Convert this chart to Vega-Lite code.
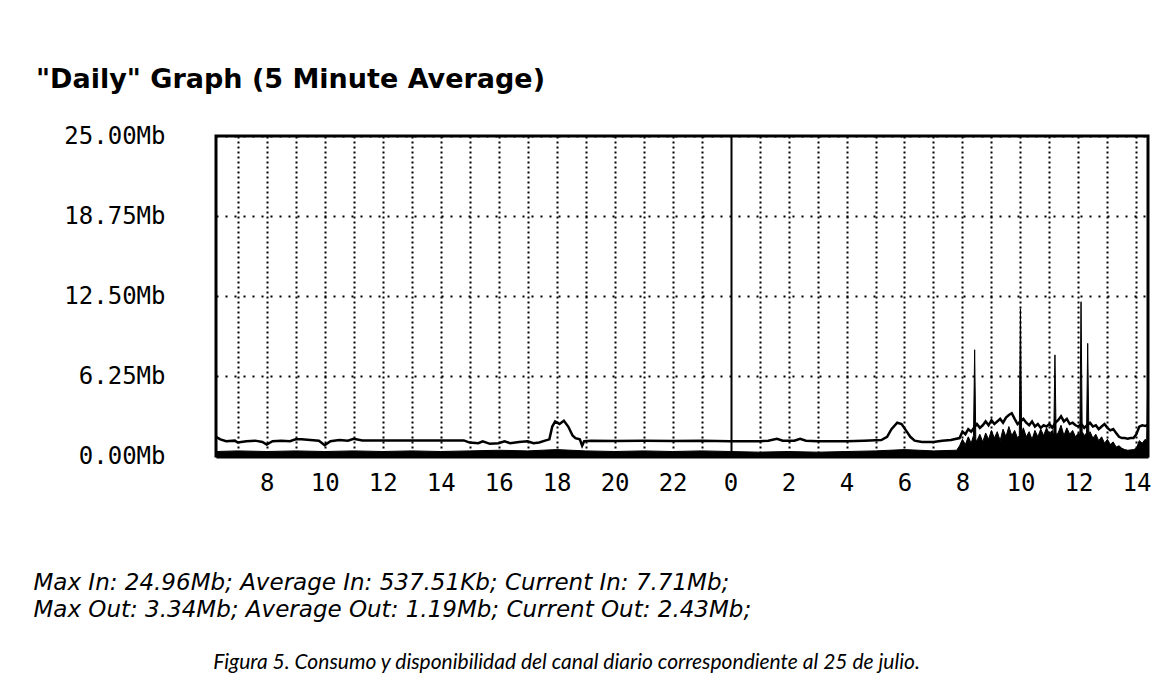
{
  "$schema": "https://vega.github.io/schema/vega-lite/v6.json",
  "width": 932,
  "height": 320,
  "autosize": {"type": "none"},
  "padding": {"left": 216, "top": 136, "right": 15, "bottom": 232},
  "background": "white",
  "title": {
    "text": "\"Daily\" Graph (5 Minute Average)",
    "anchor": "start",
    "frame": "group",
    "dx": -180,
    "font": "DejaVu Sans",
    "fontSize": 27,
    "fontWeight": "bold",
    "color": "black",
    "baseline": "alphabetic",
    "offset": 9
  },
  "datasets": {
    "inData": [
      {"h": 6.25, "v": 0.35}, {"h": 7, "v": 0.4}, {"h": 8, "v": 0.35}, {"h": 9, "v": 0.4},
      {"h": 10, "v": 0.35}, {"h": 11, "v": 0.4}, {"h": 12, "v": 0.35}, {"h": 13, "v": 0.4},
      {"h": 14, "v": 0.35}, {"h": 15, "v": 0.4}, {"h": 16, "v": 0.45}, {"h": 17, "v": 0.4},
      {"h": 18, "v": 0.5}, {"h": 19, "v": 0.4}, {"h": 20, "v": 0.35}, {"h": 21, "v": 0.4},
      {"h": 22, "v": 0.35}, {"h": 23, "v": 0.4}, {"h": 24, "v": 0.35}, {"h": 25, "v": 0.3},
      {"h": 26, "v": 0.35}, {"h": 27, "v": 0.3}, {"h": 28, "v": 0.35}, {"h": 29, "v": 0.4},
      {"h": 30, "v": 0.5}, {"h": 31, "v": 0.4}, {"h": 31.8, "v": 0.45},
      {"h": 31.9, "v": 0.8}, {"h": 32.0, "v": 1.3}, {"h": 32.1, "v": 0.9}, {"h": 32.2, "v": 1.5},
      {"h": 32.3, "v": 1.0}, {"h": 32.38, "v": 1.6}, {"h": 32.42, "v": 8.3}, {"h": 32.46, "v": 1.3},
      {"h": 32.5, "v": 1.2}, {"h": 32.6, "v": 1.7}, {"h": 32.7, "v": 1.1}, {"h": 32.8, "v": 1.8},
      {"h": 32.9, "v": 1.3}, {"h": 33.0, "v": 2.0}, {"h": 33.1, "v": 1.4}, {"h": 33.2, "v": 1.9},
      {"h": 33.3, "v": 1.2}, {"h": 33.4, "v": 2.1}, {"h": 33.5, "v": 1.5}, {"h": 33.6, "v": 2.3},
      {"h": 33.7, "v": 1.6}, {"h": 33.8, "v": 2.0}, {"h": 33.9, "v": 1.4}, {"h": 33.96, "v": 1.6},
      {"h": 34.0, "v": 11.5}, {"h": 34.04, "v": 1.8}, {"h": 34.1, "v": 2.2}, {"h": 34.2, "v": 1.5},
      {"h": 34.3, "v": 1.9}, {"h": 34.4, "v": 1.3}, {"h": 34.5, "v": 2.0}, {"h": 34.6, "v": 1.5},
      {"h": 34.7, "v": 2.1}, {"h": 34.8, "v": 1.6}, {"h": 34.9, "v": 2.2}, {"h": 35.0, "v": 1.7},
      {"h": 35.1, "v": 2.0}, {"h": 35.15, "v": 1.6}, {"h": 35.19, "v": 7.9}, {"h": 35.23, "v": 1.7},
      {"h": 35.3, "v": 1.8}, {"h": 35.4, "v": 2.4}, {"h": 35.5, "v": 1.6}, {"h": 35.6, "v": 2.2},
      {"h": 35.7, "v": 1.7}, {"h": 35.8, "v": 2.0}, {"h": 35.9, "v": 1.5}, {"h": 36.0, "v": 1.8},
      {"h": 36.05, "v": 1.7}, {"h": 36.09, "v": 12.05}, {"h": 36.13, "v": 1.9}, {"h": 36.2, "v": 1.6},
      {"h": 36.28, "v": 1.8}, {"h": 36.32, "v": 8.8}, {"h": 36.36, "v": 1.7}, {"h": 36.4, "v": 1.9},
      {"h": 36.5, "v": 1.4}, {"h": 36.6, "v": 1.7}, {"h": 36.7, "v": 1.2}, {"h": 36.8, "v": 1.5},
      {"h": 36.9, "v": 1.0}, {"h": 37.0, "v": 1.3}, {"h": 37.1, "v": 0.9}, {"h": 37.2, "v": 1.1},
      {"h": 37.3, "v": 0.7}, {"h": 37.4, "v": 0.8}, {"h": 37.5, "v": 0.6}, {"h": 37.6, "v": 0.5},
      {"h": 37.7, "v": 0.45}, {"h": 37.9, "v": 0.5}, {"h": 38.0, "v": 0.6}, {"h": 38.1, "v": 1.2},
      {"h": 38.2, "v": 1.0}, {"h": 38.3, "v": 1.3}, {"h": 38.36, "v": 1.2}, {"h": 38.4, "v": 7.71}
    ],
    "outData": [
      {"h": 6.25, "v": 1.5}, {"h": 6.4, "v": 1.3}, {"h": 6.6, "v": 1.15}, {"h": 6.9, "v": 1.2},
      {"h": 7.0, "v": 1.05}, {"h": 7.3, "v": 1.15}, {"h": 7.6, "v": 1.2}, {"h": 7.85, "v": 1.1},
      {"h": 8.0, "v": 0.9}, {"h": 8.2, "v": 1.15}, {"h": 8.5, "v": 1.2}, {"h": 8.8, "v": 1.15},
      {"h": 9.0, "v": 1.3}, {"h": 9.2, "v": 1.3}, {"h": 9.5, "v": 1.25}, {"h": 9.8, "v": 1.2},
      {"h": 10.0, "v": 0.85}, {"h": 10.2, "v": 1.15}, {"h": 10.5, "v": 1.25}, {"h": 10.8, "v": 1.2},
      {"h": 11.0, "v": 1.35}, {"h": 11.3, "v": 1.22}, {"h": 14.8, "v": 1.22}, {"h": 15.0, "v": 1.05},
      {"h": 15.3, "v": 1.0}, {"h": 15.45, "v": 1.15}, {"h": 15.7, "v": 0.95}, {"h": 16.0, "v": 1.0},
      {"h": 16.2, "v": 1.15}, {"h": 16.4, "v": 1.0}, {"h": 16.7, "v": 1.1}, {"h": 17.0, "v": 1.15},
      {"h": 17.2, "v": 1.0}, {"h": 17.4, "v": 1.05}, {"h": 17.6, "v": 1.2}, {"h": 17.75, "v": 1.3},
      {"h": 17.85, "v": 2.3}, {"h": 17.95, "v": 2.7}, {"h": 18.1, "v": 2.5}, {"h": 18.25, "v": 2.75},
      {"h": 18.4, "v": 2.3}, {"h": 18.55, "v": 1.6}, {"h": 18.65, "v": 1.4}, {"h": 18.8, "v": 1.3},
      {"h": 18.88, "v": 0.8}, {"h": 18.95, "v": 1.15}, {"h": 19.2, "v": 1.2}, {"h": 20, "v": 1.18},
      {"h": 21, "v": 1.2}, {"h": 22, "v": 1.18}, {"h": 23, "v": 1.2}, {"h": 24, "v": 1.15},
      {"h": 25.0, "v": 1.15}, {"h": 25.3, "v": 1.2}, {"h": 25.6, "v": 1.35}, {"h": 25.8, "v": 1.2},
      {"h": 26.2, "v": 1.2}, {"h": 26.4, "v": 1.35}, {"h": 26.6, "v": 1.2}, {"h": 27.0, "v": 1.15},
      {"h": 28.0, "v": 1.15}, {"h": 28.6, "v": 1.2}, {"h": 29.2, "v": 1.25}, {"h": 29.4, "v": 1.5},
      {"h": 29.55, "v": 2.1}, {"h": 29.75, "v": 2.6}, {"h": 29.9, "v": 2.5}, {"h": 30.05, "v": 2.0},
      {"h": 30.2, "v": 1.5}, {"h": 30.35, "v": 1.2}, {"h": 30.6, "v": 1.1}, {"h": 31.0, "v": 1.1},
      {"h": 31.3, "v": 1.2}, {"h": 31.6, "v": 1.25}, {"h": 31.9, "v": 1.4}, {"h": 32.0, "v": 1.9},
      {"h": 32.1, "v": 1.7}, {"h": 32.2, "v": 2.1}, {"h": 32.3, "v": 1.9}, {"h": 32.4, "v": 2.2},
      {"h": 32.5, "v": 2.5}, {"h": 32.6, "v": 2.2}, {"h": 32.7, "v": 2.4}, {"h": 32.8, "v": 2.7},
      {"h": 32.9, "v": 2.4}, {"h": 33.0, "v": 2.8}, {"h": 33.1, "v": 2.5}, {"h": 33.2, "v": 2.7},
      {"h": 33.3, "v": 2.9}, {"h": 33.4, "v": 2.6}, {"h": 33.5, "v": 3.0}, {"h": 33.6, "v": 3.2},
      {"h": 33.7, "v": 3.34}, {"h": 33.8, "v": 2.9}, {"h": 33.9, "v": 2.5}, {"h": 34.0, "v": 2.7},
      {"h": 34.1, "v": 2.9}, {"h": 34.2, "v": 2.6}, {"h": 34.3, "v": 2.4}, {"h": 34.4, "v": 2.7},
      {"h": 34.5, "v": 2.3}, {"h": 34.6, "v": 2.5}, {"h": 34.7, "v": 2.2}, {"h": 34.8, "v": 2.4},
      {"h": 34.9, "v": 2.3}, {"h": 35.0, "v": 2.5}, {"h": 35.1, "v": 2.2}, {"h": 35.2, "v": 2.6},
      {"h": 35.3, "v": 2.8}, {"h": 35.4, "v": 3.1}, {"h": 35.5, "v": 2.7}, {"h": 35.6, "v": 2.9},
      {"h": 35.7, "v": 2.5}, {"h": 35.8, "v": 2.6}, {"h": 35.9, "v": 2.4}, {"h": 36.0, "v": 2.3},
      {"h": 36.1, "v": 2.5}, {"h": 36.2, "v": 2.2}, {"h": 36.3, "v": 2.4}, {"h": 36.4, "v": 2.6},
      {"h": 36.5, "v": 2.3}, {"h": 36.6, "v": 2.4}, {"h": 36.7, "v": 2.1}, {"h": 36.8, "v": 2.3},
      {"h": 36.9, "v": 2.5}, {"h": 37.0, "v": 2.2}, {"h": 37.1, "v": 2.0}, {"h": 37.2, "v": 2.1},
      {"h": 37.3, "v": 1.8}, {"h": 37.4, "v": 1.5}, {"h": 37.5, "v": 1.4}, {"h": 37.6, "v": 1.4},
      {"h": 37.7, "v": 1.35}, {"h": 37.8, "v": 1.4}, {"h": 37.9, "v": 1.4}, {"h": 38.0, "v": 1.7},
      {"h": 38.1, "v": 2.3}, {"h": 38.2, "v": 2.4}, {"h": 38.3, "v": 2.35}, {"h": 38.4, "v": 2.43}
    ]
  },
  "encoding": {
    "x": {
      "field": "h",
      "type": "quantitative",
      "scale": {"domain": [6.25, 38.4], "nice": false, "zero": false},
      "axis": {
        "orient": "bottom",
        "values": [7,8,9,10,11,12,13,14,15,16,17,18,19,20,21,22,23,24,25,26,27,28,29,30,31,32,33,34,35,36,37,38],
        "labelExpr": "datum.value % 2 == 0 ? '' + (datum.value % 24) : ''",
        "labelOverlap": false,
        "labelFlush": false,
        "labelFont": "DejaVu Sans Mono",
        "labelFontSize": 24,
        "labelColor": "black",
        "labelBaseline": "top",
        "labelPadding": 15,
        "ticks": false,
        "domain": true,
        "domainColor": "black",
        "domainWidth": 4,
        "grid": true,
        "gridColor": "black",
        "gridOpacity": 1,
        "gridDash": {"condition": {"test": "datum.value === 24", "value": []}, "value": [2, 3]},
        "gridWidth": {"condition": {"test": "datum.value === 24", "value": 2}, "value": 2},
        "title": [
          "Max In: 24.96Mb; Average In: 537.51Kb; Current In: 7.71Mb;",
          "Max Out: 3.34Mb; Average Out: 1.19Mb; Current Out: 2.43Mb;"
        ],
        "titleFont": "DejaVu Sans",
        "titleFontSize": 23,
        "titleFontStyle": "italic",
        "titleFontWeight": "normal",
        "titleColor": "black",
        "titleAlign": "left",
        "titleBaseline": "alphabetic",
        "titleX": -183,
        "titleY": 133,
        "titleLineHeight": 27
      }
    },
    "y": {
      "field": "v",
      "type": "quantitative",
      "scale": {"domain": [0, 25], "nice": false},
      "axis": {
        "values": [0, 6.25, 12.5, 18.75, 25],
        "labelExpr": "format(datum.value, '.2f') + 'Mb'",
        "labelFont": "DejaVu Sans Mono",
        "labelFontSize": 24,
        "labelColor": "black",
        "labelPadding": 51,
        "labelBaseline": "middle",
        "ticks": false,
        "domain": false,
        "grid": true,
        "gridColor": "black",
        "gridOpacity": 1,
        "gridDash": [2, 7],
        "gridWidth": 2,
        "title": "Figura 5. Consumo y disponibilidad del canal diario correspondiente al 25 de julio.",
        "titleAngle": 0,
        "titleFont": "Lato",
        "titleFontSize": 21,
        "titleFontStyle": "italic",
        "titleFontWeight": "normal",
        "titleColor": "black",
        "titleAlign": "center",
        "titleBaseline": "middle",
        "titleX": 350,
        "titleY": 526
      }
    }
  },
  "layer": [
    {
      "data": {"name": "inData"},
      "mark": {"type": "area", "color": "black", "stroke": "black", "strokeWidth": 1, "opacity": 1}
    },
    {
      "data": {"name": "outData"},
      "mark": {"type": "line", "color": "black", "strokeWidth": 2.5}
    }
  ],
  "config": {
    "view": {"stroke": "black", "strokeWidth": 3},
    "axis": {"labelFontWeight": "normal"}
  }
}
